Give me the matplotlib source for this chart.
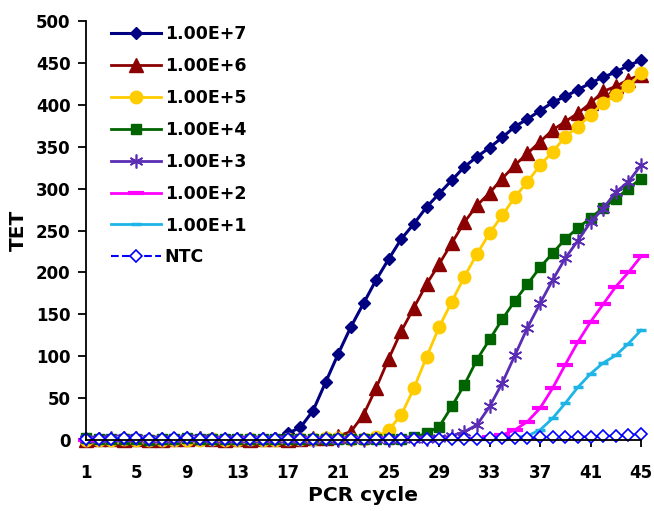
import matplotlib
matplotlib.use("Agg")
import matplotlib.pyplot as plt

plt.rcParams["font.family"] = ["DejaVu Sans"]
plt.rcParams["font.weight"] = "bold"

cycles = list(range(1, 46))

# fluorescence (TET) per cycle
e7 = [1, 1, 1, 2, 1, 1, 1, 1, 1, 1, 1, 1, 1, 1, 1, 2,
      8, 15, 35, 69, 103, 135, 163, 191, 216, 240, 258, 278, 294, 310,
      326, 338, 349, 361, 374, 383, 393, 403, 410, 418, 426, 433, 439, 447, 453]
e6 = [0, 1, 1, 0, 1, 0, 0, 1, 1, 2, 1, 0, 1, 0, 1, 1, 0, 1, 2, 2,
      5, 10, 30, 62, 97, 130, 158, 186, 210, 235, 260, 280, 295, 312,
      328, 342, 356, 370, 380, 390, 402, 416, 422, 430, 436]
e5 = [0, 0, 0, 1, 0, 0, 0, 0, 0, 0, 1, 0, 0, 1, 0, 0, 1, 1, 1, 2, 2, 1, 1,
      3, 12, 30, 62, 99, 135, 165, 195, 222, 247, 268, 290, 308, 328, 344,
      362, 374, 388, 402, 412, 422, 438]
e4 = [2, 1, 1, 1, 1, 0, 1, 1, 2, 1, 1, 1, 1, 1, 1, 1, 1, 1, 1, 1, 1, 1, 1, 1, 1, 1,
      3, 8, 16, 40, 66, 96, 120, 144, 166, 186, 206, 223, 240, 253, 265, 277,
      288, 300, 312]
e3 = [1, 1, 2, 2, 2, 1, 1, 1, 2, 2, 1, 1, 1, 1, 1, 1, 1, 1, 0, 1, 0, 1, 0, 1, 0, 1, 1, 1,
      2, 5, 10, 18, 40, 68, 101, 134, 163, 191, 217, 238, 260, 276, 296, 308, 328]
e2 = [0, 1, 1, 1, 1, 1, 1, 1, 1, 1, 1, 1, 1, 1, 1, 1, 1, 1, 1, 1, 1, 1, 1, 1, 1, 1, 1, 1,
      1, 1, 1, 1,
      3, 6, 12, 22, 38, 62, 90, 117, 141, 162, 183, 200, 219]
e1 = [1, 1, 2, 2, 2, 2, 1, 1, 1, 2, 1, 1, 1, 1, 2, 2, 1, 1, 1, 1, 1, 1, 1, 1, 1, 1, 1, 1,
      1, 1, 1, 1, 1, 1,
      3, 5, 12, 26, 44, 63, 79, 92, 101, 115, 131]
ntc = [1, 1, 1, 2, 2, 1, 1, 2, 2, 1, 1, 1, 1, 1, 1, 1, 1, 1, 1, 1, 1, 1, 1, 1, 1, 1, 1, 1,
       1, 1, 1, 1,
       2, 2, 2, 2, 3, 3, 3, 4, 4, 5, 5, 6, 7]

labels = ["1.00E+7", "1.00E+6", "1.00E+5", "1.00E+4",
          "1.00E+3", "1.00E+2", "1.00E+1", "NTC"]
series = [e7, e6, e5, e4, e3, e2, e1, ntc]

styles = [
    dict(color="#000080", marker="D", ms=6.5, lw=2.2),
    dict(color="#8b0000", marker="^", ms=10, lw=2),
    dict(color="#ffcc00", marker="o", ms=9, lw=2),
    dict(color="#006400", marker="s", ms=7.5, lw=2),
    dict(color="#5a2db4", marker=(6, 2, 0), ms=10, lw=2, mew=1.2),
    dict(color="#ff00ff", marker="_", ms=11, lw=2, mew=3),
    dict(color="#1eb4e6", marker="_", ms=6.5, lw=2, mew=2.5),
    dict(color="#0000ff", marker="D", ms=6.5, lw=1.5, ls="--",
         mfc="white", mew=1.2),
]

fig = plt.figure(figsize=(6.54, 5.11), dpi=100)
ax = fig.add_axes([86 / 654, 1 - 440 / 511, 555 / 654, 419 / 511])

for vals, lab, st in zip(series, labels, styles):
    ax.plot(cycles, vals, label=lab, clip_on=False, **st)

ax.set_xlim(1, 45)
ax.set_ylim(0, 500)
ax.set_xticks(range(1, 46, 4))
ax.set_yticks(range(0, 501, 50))
ax.spines["top"].set_visible(False)
ax.spines["right"].set_visible(False)
ax.spines["left"].set_linewidth(1.3)
ax.spines["bottom"].set_linewidth(1.3)
ax.tick_params(axis="y", direction="out", length=6, width=1.3, pad=5,
               labelsize=12)
ax.tick_params(axis="x", direction="out", length=5, width=1.3, pad=12,
               labelsize=12)

ax.set_xlabel("PCR cycle", fontsize=14.5, fontweight="bold", labelpad=3)
ax.set_ylabel("TET", fontsize=14.5, fontweight="bold", labelpad=6)

ax.legend(loc="upper left", bbox_to_anchor=(0.045, 0.99), frameon=False,
          fontsize=12.5, handlelength=2.9, handletextpad=0.2, labelspacing=0.8,
          borderpad=0, borderaxespad=0)

fig.savefig("out.png", dpi=100)
